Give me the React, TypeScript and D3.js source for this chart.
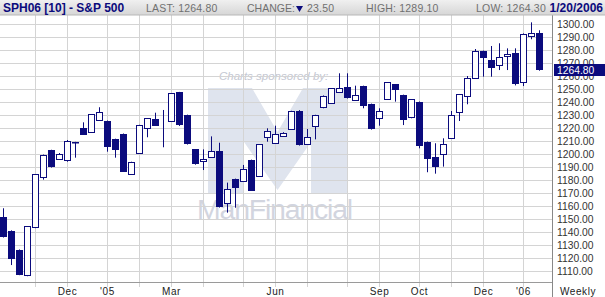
import React from "react";
import * as d3 from "d3";

const openV = [1151.8,1141.0,1126.4,1106.6,1143.5,1182.3,1203.1,1196.2,1195.1,1209.5,1220.2,1216.9,1226.9,1225.6,1211.8,1215.6,1184.6,1200.8,1220.0,1227.2,1220.0,1225.1,1247.7,1230.2,1203.8,1194.8,1197.7,1202.5,1162.3,1181.0,1179.2,1195.6,1182.8,1213.1,1208.5,1214.1,1219.5,1233.3,1207.7,1221.8,1236.4,1239.2,1247.7,1251.5,1241.5,1252.5,1238.7,1227.7,1242.5,1253.8,1245.6,1228.5,1240.3,1209.5,1197.9,1200.0,1212.3,1232.3,1244.8,1258.5,1279.5,1272.5,1268.2,1275.4,1277.7,1255.4,1290.8,1293.1];
const highV = [1158.5,1141.5,1126.8,1144.8,1184.8,1199.8,1203.5,1201.0,1211.0,1209.6,1224.6,1231.0,1236.2,1226.0,1212.0,1216.0,1194.3,1222.7,1227.9,1232.0,1234.1,1247.1,1248.0,1230.5,1204.0,1203.8,1213.8,1208.9,1178.2,1181.3,1191.8,1195.9,1207.9,1220.0,1222.0,1217.0,1233.5,1234.0,1219.5,1230.4,1245.3,1251.0,1262.3,1262.3,1252.8,1252.8,1239.0,1235.4,1255.6,1254.0,1245.9,1242.5,1240.6,1209.8,1208.5,1212.3,1233.3,1246.4,1260.2,1281.0,1279.8,1283.3,1285.4,1281.5,1281.5,1293.0,1301.5,1295.4];
const lowV = [1136.0,1114.8,1107.0,1106.2,1143.2,1180.5,1189.8,1196.0,1194.3,1197.4,1215.0,1216.7,1226.7,1202.0,1197.4,1186.4,1184.4,1200.6,1213.1,1221.8,1205.4,1224.9,1221.8,1207.5,1192.0,1187.9,1197.5,1159.0,1155.1,1158.9,1179.0,1171.8,1182.6,1209.7,1208.3,1213.5,1219.3,1206.7,1207.5,1211.5,1235.4,1239.0,1247.5,1242.9,1241.3,1235.4,1219.0,1222.0,1242.3,1240.5,1222.5,1227.7,1204.6,1186.2,1185.1,1190.5,1212.1,1225.6,1238.5,1258.3,1259.7,1259.7,1264.8,1264.8,1253.0,1252.5,1288.5,1264.3];
const closeV = [1136.6,1119.7,1107.2,1144.6,1184.6,1199.5,1190.0,1200.0,1210.0,1208.8,1215.1,1230.8,1232.8,1205.4,1203.1,1186.6,1194.1,1222.3,1227.7,1222.0,1220.0,1246.9,1222.0,1207.7,1192.5,1196.4,1202.5,1159.2,1173.1,1173.8,1188.5,1172.0,1207.7,1217.7,1215.4,1216.4,1233.3,1206.9,1213.3,1230.2,1245.1,1250.8,1250.8,1243.1,1245.6,1237.4,1219.2,1233.3,1255.4,1249.5,1226.6,1242.3,1206.6,1196.4,1190.5,1207.7,1230.2,1246.2,1258.5,1279.5,1273.8,1266.6,1274.6,1276.9,1254.1,1292.3,1293.1,1264.8];

const firstWeek = new Date(Date.UTC(2004, 9, 8));
const lastWeek = new Date(Date.UTC(2006, 0, 20));
const weeks = d3.utcFriday.range(firstWeek, d3.utcDay.offset(lastWeek, 1));

const yTicks = [1110,1120,1130,1140,1150,1160,1170,1180,1190,1200,1210,1220,1230,1240,1250,1260,1270,1280,1290,1300];
const xLabels = [
  { month: "2004-12", text: "Dec" },
  { month: "2005-01", text: "'05" },
  { month: "2005-03", text: "Mar" },
  { month: "2005-06", text: "Jun" },
  { month: "2005-09", text: "Sep" },
  { month: "2005-10", text: "Oct" },
  { month: "2005-12", text: "Dec" },
  { month: "2006-01", text: "'06" },
];
const lastValue = 1264.8;

const NAVY = "#0b0b7d";
const FONT = "Arial, 'Liberation Sans', sans-serif";

export default function App() {
  const W = 605, H = 297;
  const plotL = 0, plotR = 552, plotT = 15, plotB = 282;
  const x = d3.scaleUtc().domain([firstWeek, lastWeek]).range([3.5, 539.5]);
  const y = d3.scaleLinear().domain([1100, 1300]).range([284.3, 24.3]);

  const monthStarts = weeks.filter((d, i) => i === 0 ? false : d.getUTCMonth() !== weeks[i - 1].getUTCMonth());
  const fmt = d3.utcFormat("%Y-%m");
  const labelPos = xLabels.map(l => {
    const d = monthStarts.find(m => fmt(m) === l.month)!;
    return { ...l, x: x(d) };
  });

  const candles = weeks.map((d, i) => ({ d, o: openV[i], h: highV[i], l: lowV[i], c: closeV[i] }));

  return (
    <svg width={W} height={H} style={{ position: "absolute", left: 0, top: 0, background: "#fff" }} fontFamily={FONT}>
      <defs>
        <linearGradient id="hdr" x1="0" y1="0" x2="0" y2="1">
          <stop offset="0" stopColor="#f0f0f0" />
          <stop offset="1" stopColor="#d6d6d6" />
        </linearGradient>
        <clipPath id="plot">
          <rect x={plotL} y={plotT} width={plotR - plotL} height={plotB - plotT} />
        </clipPath>
      </defs>
      <rect x={0} y={0} width={W} height={H} fill="#fff" />

      {/* watermark */}
      <g>
        <text x={219} y={80} fontSize={11.5} fontStyle="italic" fill="#c4c7d2">Charts sponsored by:</text>
        <polygon
          points="208,193 208,88 252,88 277.5,132 303,88 347,88 347,193 311,193 311,142 277.5,190 244,142 244,193"
          fill="#dfe4ee"
        />
        <text x={197} y={219} fontSize={27} fill="#d2d5df" letterSpacing={-1.1} textLength={155} lengthAdjust="spacingAndGlyphs">ManFinancial</text>
      </g>

      {/* grid */}
      <g clipPath="url(#plot)">
        {yTicks.map(t => (
          <line key={t} x1={plotL} x2={plotR} y1={Math.round(y(t)) + 0.5} y2={Math.round(y(t)) + 0.5} stroke="#d4d4d4" />
        ))}
      </g>
      {monthStarts.map((m, i) => (
        <line key={i} x1={x(m)} x2={x(m)} y1={plotT} y2={plotB + 5} stroke="#d4d4d4" />
      ))}

      {/* candles */}
      <g clipPath="url(#plot)">
        {candles.map((k, i) => {
          const cx = x(k.d);
          const up = k.c >= k.o;
          const top = y(Math.max(k.o, k.c));
          const bot = y(Math.min(k.o, k.c));
          return (
            <g key={i}>
              <line x1={cx} x2={cx} y1={y(k.h)} y2={y(k.l)} stroke={NAVY} strokeWidth={1} />
              {k.o === k.c ? null : up ? (
                <rect x={cx - 3} y={Math.round(top) + 0.5} width={6} height={Math.max(1, Math.round(bot - top))} fill="#fff" stroke={NAVY} strokeWidth={1} />
              ) : (
                <rect x={cx - 3.5} y={Math.round(top)} width={7} height={Math.max(1.5, Math.round(bot - top))} fill={NAVY} />
              )}
            </g>
          );
        })}
      </g>

      {/* axes */}
      <line x1={plotL} x2={plotR} y1={plotB + 0.5} y2={plotB + 0.5} stroke="#9a9a9a" />
      <line x1={plotR + 0.5} x2={plotR + 0.5} y1={plotT} y2={H} stroke="#888" />

      {yTicks.map(t => (
        <text key={t} x={557} y={y(t)} dy="0.36em" fontSize={10.3} fill="#333">{d3.format(".2f")(t)}</text>
      ))}
      <rect x={554} y={Math.round(y(lastValue)) - 6} width={51} height={12} fill={NAVY} />
      <text x={557} y={y(lastValue)} dy="0.36em" fontSize={10.3} fill="#fff">{d3.format(".2f")(lastValue)}</text>

      {labelPos.map((l, i) => (
        <text key={i} x={l.x} y={295} textAnchor="middle" fontSize={10} letterSpacing={0.6} fill="#222">{l.text}</text>
      ))}
      <text x={578} y={295} textAnchor="middle" fontSize={10} letterSpacing={0.6} fill="#222">Weekly</text>

      {/* header */}
      <rect x={0} y={0} width={W} height={15} fill="url(#hdr)" />
      <line x1={0} x2={W} y1={15} y2={15} stroke="#b8b8b8" />
      <text x={3} y={12} fontSize={12} fontWeight="bold" fill={NAVY}>SPH06 [10] - S&amp;P 500</text>
      <text x={146} y={12} fontSize={10.5} fill="#707070" letterSpacing={0.2}>LAST: 1264.80</text>
      <text x={247} y={12} fontSize={10.5} fill="#707070">CHANGE:</text>
      <path d="M296,6 L303,6 L299.5,12 Z" fill={NAVY} />
      <text x={307} y={12} fontSize={10.5} fill="#707070" letterSpacing={0.2}>23.50</text>
      <text x={366} y={12} fontSize={10.5} fill="#707070" letterSpacing={0.2}>HIGH: 1289.10</text>
      <text x={476} y={12} fontSize={10.5} fill="#707070" letterSpacing={0.2}>LOW: 1264.30</text>
      <text x={603} y={12} fontSize={12} fontWeight="bold" fill={NAVY} textAnchor="end">1/20/2006</text>
    </svg>
  );
}
